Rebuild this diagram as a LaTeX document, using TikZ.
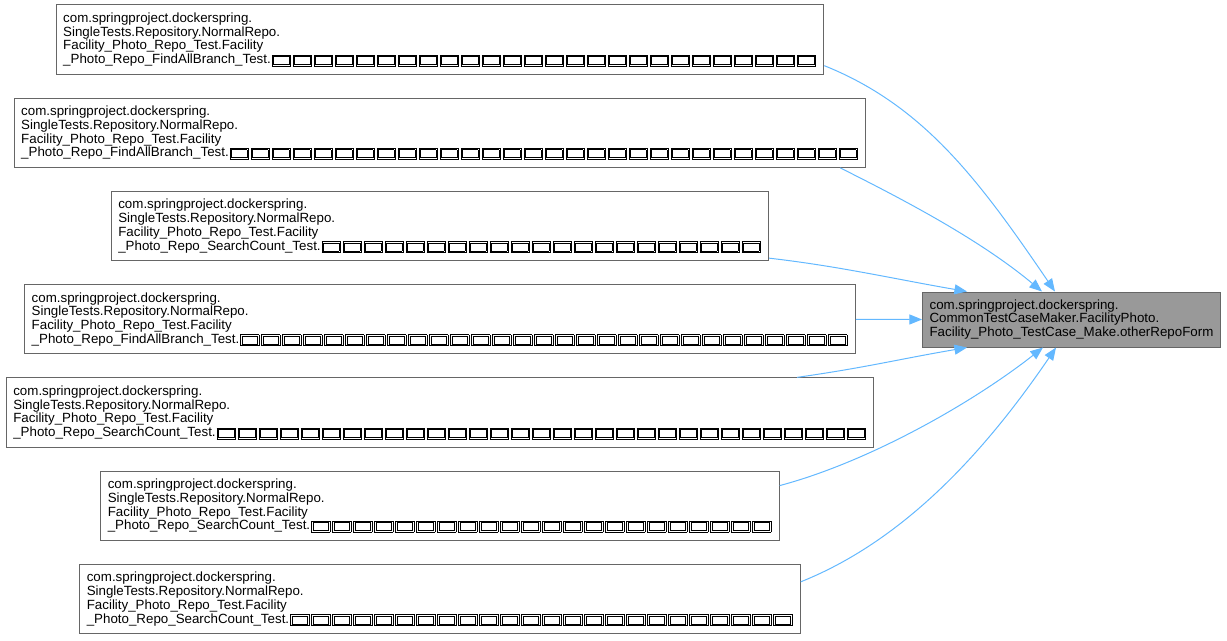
\documentclass[tikz,border=0pt]{standalone}
\usepackage{fontspec}
\setmainfont{Liberation Sans}
\usetikzlibrary{arrows.meta}
\definecolor{edgeblue}{HTML}{63B8FF}
\definecolor{boxgray}{HTML}{666666}
\definecolor{rootgray}{HTML}{999999}
% glyph the font does not have, drawn as a double box
\newcommand{\tofu}{\kern0.75pt{\fboxrule=0.5pt\fboxsep=0.6pt\fbox{\fboxsep=0pt\fbox{\rule[-0.5pt]{0pt}{5.6pt}\hspace{11.05pt}}}}\kern0.75pt}
\newcommand{\tofus}[1]{\foreach \k in {1,...,#1}{\tofu}}

\begin{document}
\begin{tikzpicture}[x=0.75pt, y=-0.75pt,
    caller/.style={draw=boxgray, fill=white, line width=0.75pt, align=left, inner xsep=5.25pt, minimum height=52pt, font=\fontsize{10pt}{10.3pt}\selectfont},
    target/.style={caller, fill=rootgray, minimum height=41.25pt},
    call/.style={draw=edgeblue, line width=0.75pt, -{Triangle[length=9.5pt,width=7.5pt]}}]
    \useasboundingbox (0,0) rectangle (1227,640);

    \node[target] (root) at (1071.5,319.5) {com.springproject.dockerspring.\\CommonTestCaseMaker.FacilityPhoto.\\Facility\_Photo\_TestCase\_Make.otherRepoForm};

    \node[caller] (b1) at (440,39.5) {com.springproject.dockerspring.\\SingleTests.Repository.NormalRepo.\\Facility\_Photo\_Repo\_Test.Facility\\\_Photo\_Repo\_FindAllBranch\_Test.\tofus{26}};
    \node[caller] (b2) at (440,132.75) {com.springproject.dockerspring.\\SingleTests.Repository.NormalRepo.\\Facility\_Photo\_Repo\_Test.Facility\\\_Photo\_Repo\_FindAllBranch\_Test.\tofus{30}};
    \node[caller] (b3) at (440,226) {com.springproject.dockerspring.\\SingleTests.Repository.NormalRepo.\\Facility\_Photo\_Repo\_Test.Facility\\\_Photo\_Repo\_SearchCount\_Test.\tofus{21}};
    \node[caller] (b4) at (440,319.25) {com.springproject.dockerspring.\\SingleTests.Repository.NormalRepo.\\Facility\_Photo\_Repo\_Test.Facility\\\_Photo\_Repo\_FindAllBranch\_Test.\tofus{29}};
    \node[caller] (b5) at (440,412.5) {com.springproject.dockerspring.\\SingleTests.Repository.NormalRepo.\\Facility\_Photo\_Repo\_Test.Facility\\\_Photo\_Repo\_SearchCount\_Test.\tofus{31}};
    \node[caller] (b6) at (440,505.75) {com.springproject.dockerspring.\\SingleTests.Repository.NormalRepo.\\Facility\_Photo\_Repo\_Test.Facility\\\_Photo\_Repo\_SearchCount\_Test.\tofus{22}};
    \node[caller] (b7) at (440,599) {com.springproject.dockerspring.\\SingleTests.Repository.NormalRepo.\\Facility\_Photo\_Repo\_Test.Facility\\\_Photo\_Repo\_SearchCount\_Test.\tofus{24}};

    \draw[call] ([yshift=6.75pt]b1.south east) .. controls +(100,40) and +(-75,-110) .. ([xshift=-12.4pt]root.north);
    \draw[call] ([xshift=-19.5pt]b2.south east) .. controls +(70,35) and +(-60,-50) .. ([xshift=-22.1pt]root.north);
    \draw[call] ([yshift=2.25pt]b3.south east) .. controls +(70,8) and +(-70,-12) .. ([xshift=33.75pt]root.north west);
    \draw[call] (b4.east) -- (root.west);
    \draw[call] ([xshift=-57.75pt]b5.north east) .. controls +(70,-10) and +(-70,12) .. ([xshift=33.75pt]root.south west);
    \draw[call] ([yshift=-11.25pt]b6.north east) .. controls +(90,-24) and +(-70,55) .. ([xshift=-21.4pt]root.south);
    \draw[call] ([yshift=-13.5pt]b7.north east) .. controls +(100,-40) and +(-75,110) .. ([xshift=-11.6pt]root.south);

\end{tikzpicture}
\end{document}
